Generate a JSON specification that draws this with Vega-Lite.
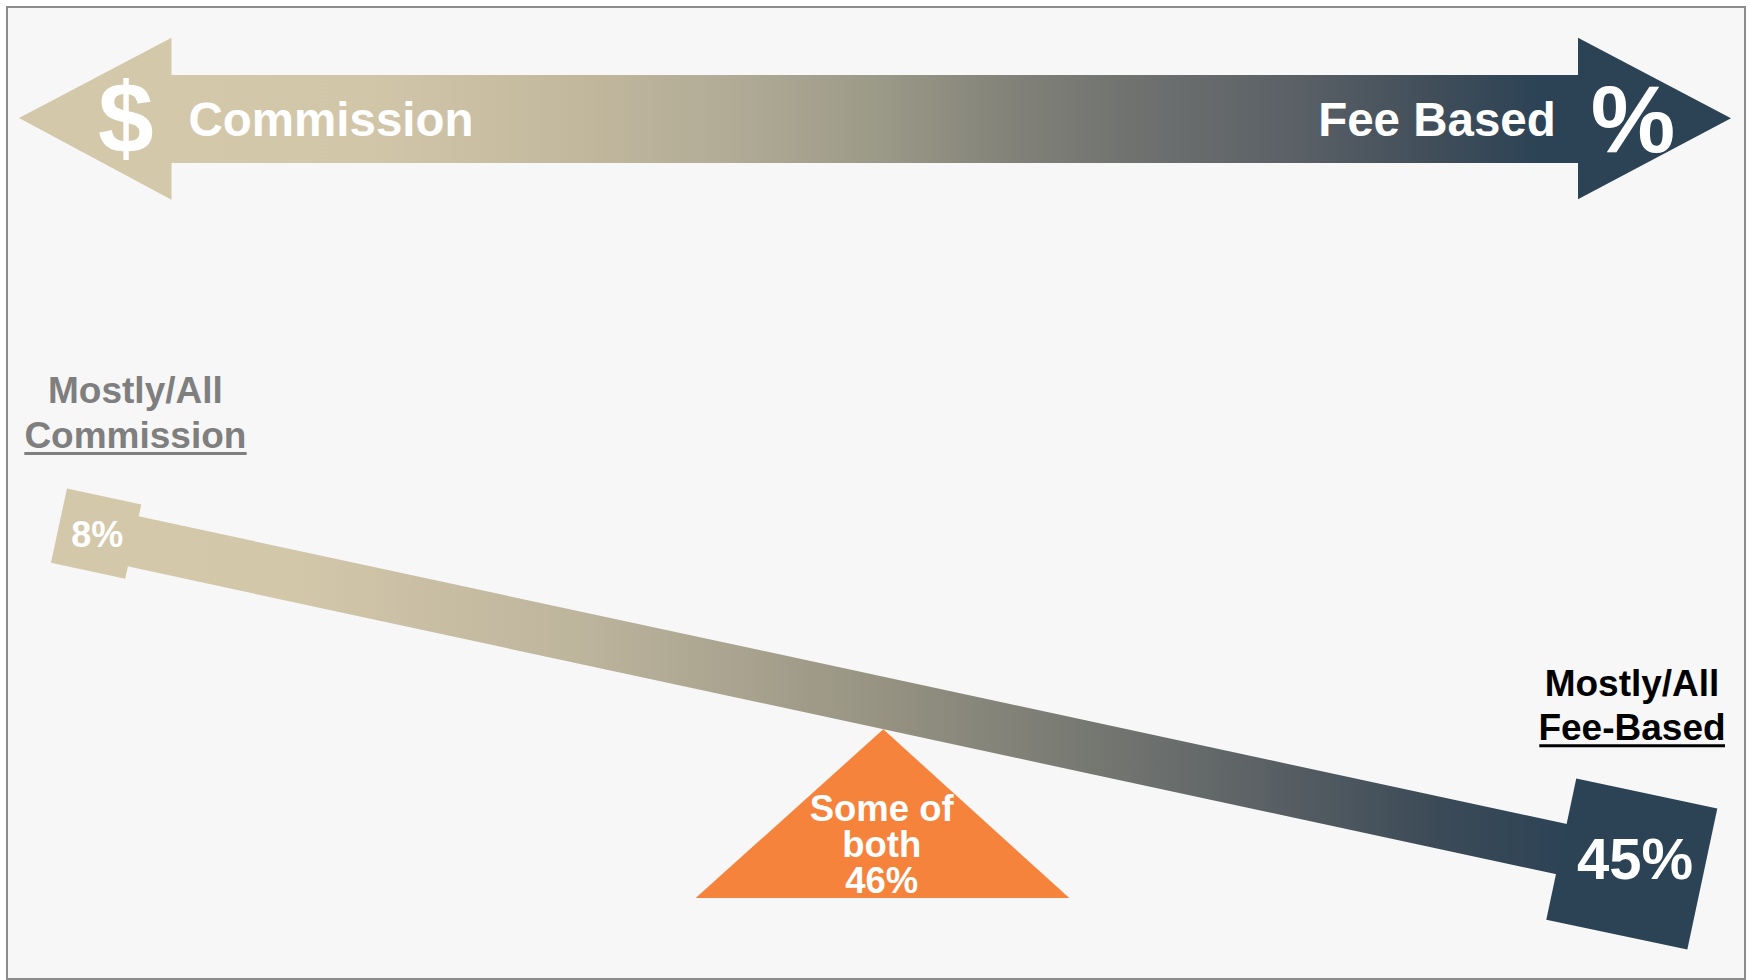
{
  "$schema": "https://vega.github.io/schema/vega-lite/v6.json",
  "width": 1749,
  "height": 980,
  "autosize": {"type": "fit", "contains": "padding"},
  "padding": 0,
  "background": "#ffffff",
  "config": {"view": {"stroke": null}, "text": {"font": "Liberation Sans", "fontWeight": "bold", "baseline": "alphabetic", "align": "center"}},
  "datasets": {
    "frame": [{"x": 7, "x2": 1745, "y": 7, "y2": 979}],
    "shaft": [{"x": 168, "x2": 1582, "y": 75, "y2": 163}],
    "leftHead": [{"x": 19, "y": 118, "y2": 118}, {"x": 171.5, "y": 37.7, "y2": 199.7}],
    "rightHead": [{"x": 1578, "y": 37.7, "y2": 199.3}, {"x": 1731, "y": 118.3, "y2": 118.3}],
    "dollar": [{"x": 125.7, "y": 153, "text": "$"}],
    "arrowText": [{"x": 331, "y": 136, "text": "Commission"}, {"x": 1437, "y": 135.7, "text": "Fee Based"}],
    "percent": [{"x": 1633, "y": 152, "text": "%"}],
    "beam": [{"x": 96, "y": 507.1, "y2": 559.6}, {"x": 1632, "y": 838.1, "y2": 890.6}],
    "leftBox": [{"x": 96.1, "y": 533.6, "category": "Mostly/All Commission", "share": 8}],
    "rightBox": [{"x": 1631.8, "y": 864.1, "category": "Mostly/All Fee-Based", "share": 45}],
    "fulcrum": [{"x": 695.7, "y": 898, "y2": 898}, {"x": 883.3, "y": 729.3, "y2": 898}, {"x": 1069.3, "y": 898, "y2": 898}],
    "leftLabel": [{"x": 135.4, "y": 403.3, "text": "Mostly/All"}, {"x": 135.4, "y": 447.7, "text": "Commission"}],
    "leftUnderline": [{"x": 24.3, "x2": 246.7, "y": 453.5}],
    "rightLabel": [{"x": 1632, "y": 696, "text": "Mostly/All"}, {"x": 1632, "y": 740, "text": "Fee-Based"}],
    "rightUnderline": [{"x": 1539.3, "x2": 1725, "y": 745.7}],
    "leftValue": [{"x": 97.3, "y": 546.7, "text": "8%"}],
    "rightValue": [{"x": 1635, "y": 879.3, "text": "45%"}],
    "bothText": [{"x": 881.7, "y": 820.7, "text": "Some of"}, {"x": 881.7, "y": 856.7, "text": "both"}, {"x": 881.7, "y": 892.7, "text": "46%"}]
  },
  "layer": [
    {
      "data": {"name": "frame"},
      "mark": {"type": "rect", "fill": "#f7f7f7", "stroke": "#8c8c8c", "strokeWidth": 2},
      "encoding": {
        "x": {"field": "x", "type": "quantitative", "scale": {"domain": [0, 1749], "nice": false, "zero": false}, "axis": null},
        "x2": {"field": "x2"},
        "y": {"field": "y", "type": "quantitative", "scale": {"domain": [0, 980], "nice": false, "zero": false, "reverse": true}, "axis": null},
        "y2": {"field": "y2"}
      }
    },
    {
      "data": {"name": "shaft"},
      "mark": {"type": "rect", "opacity": 1, "fill": {"gradient": "linear", "x1": 0, "x2": 1, "y1": 0, "y2": 0, "stops": [
        {"offset": 0, "color": "#d4c8ab"},
        {"offset": 0.14, "color": "#d2c6a9"},
        {"offset": 0.28, "color": "#c3b99e"},
        {"offset": 0.4, "color": "#b1ab96"},
        {"offset": 0.5, "color": "#9c9a88"},
        {"offset": 0.6, "color": "#818178"},
        {"offset": 0.7, "color": "#6c6f6e"},
        {"offset": 0.8, "color": "#5a6066"},
        {"offset": 0.9, "color": "#3f4d59"},
        {"offset": 0.97, "color": "#2c4356"},
        {"offset": 1, "color": "#2c4356"}
      ]}},
      "encoding": {
        "x": {"field": "x", "type": "quantitative", "scale": {"domain": [0, 1749], "nice": false, "zero": false}, "axis": null},
        "x2": {"field": "x2"},
        "y": {"field": "y", "type": "quantitative", "scale": {"domain": [0, 980], "nice": false, "zero": false, "reverse": true}, "axis": null},
        "y2": {"field": "y2"}
      }
    },
    {
      "data": {"name": "leftHead"},
      "mark": {"type": "area", "orient": "vertical", "fill": "#d4c8ab", "opacity": 1},
      "encoding": {
        "x": {"field": "x", "type": "quantitative", "scale": {"domain": [0, 1749], "nice": false, "zero": false}, "axis": null},
        "y": {"field": "y", "type": "quantitative", "stack": null, "scale": {"domain": [0, 980], "nice": false, "zero": false, "reverse": true}, "axis": null},
        "y2": {"field": "y2"}
      }
    },
    {
      "data": {"name": "rightHead"},
      "mark": {"type": "area", "orient": "vertical", "fill": "#2c4356", "opacity": 1},
      "encoding": {
        "x": {"field": "x", "type": "quantitative", "scale": {"domain": [0, 1749], "nice": false, "zero": false}, "axis": null},
        "y": {"field": "y", "type": "quantitative", "stack": null, "scale": {"domain": [0, 980], "nice": false, "zero": false, "reverse": true}, "axis": null},
        "y2": {"field": "y2"}
      }
    },
    {
      "data": {"name": "dollar"},
      "mark": {"type": "text", "fontSize": 100, "color": "#ffffff"},
      "encoding": {
        "x": {"field": "x", "type": "quantitative", "scale": {"domain": [0, 1749], "nice": false, "zero": false}, "axis": null},
        "y": {"field": "y", "type": "quantitative", "scale": {"domain": [0, 980], "nice": false, "zero": false, "reverse": true}, "axis": null},
        "text": {"field": "text"}
      }
    },
    {
      "data": {"name": "arrowText"},
      "mark": {"type": "text", "fontSize": 47.5, "color": "#ffffff"},
      "encoding": {
        "x": {"field": "x", "type": "quantitative", "scale": {"domain": [0, 1749], "nice": false, "zero": false}, "axis": null},
        "y": {"field": "y", "type": "quantitative", "scale": {"domain": [0, 980], "nice": false, "zero": false, "reverse": true}, "axis": null},
        "text": {"field": "text"}
      }
    },
    {
      "data": {"name": "percent"},
      "mark": {"type": "text", "fontSize": 95, "color": "#ffffff"},
      "encoding": {
        "x": {"field": "x", "type": "quantitative", "scale": {"domain": [0, 1749], "nice": false, "zero": false}, "axis": null},
        "y": {"field": "y", "type": "quantitative", "scale": {"domain": [0, 980], "nice": false, "zero": false, "reverse": true}, "axis": null},
        "text": {"field": "text"}
      }
    },
    {
      "data": {"name": "beam"},
      "mark": {"type": "area", "orient": "vertical", "opacity": 1, "fill": {"gradient": "linear", "x1": 0, "x2": 1, "y1": 0, "y2": 0, "stops": [
        {"offset": 0, "color": "#d4c8ab"},
        {"offset": 0.13, "color": "#d3c7aa"},
        {"offset": 0.31, "color": "#beb59d"},
        {"offset": 0.5, "color": "#999584"},
        {"offset": 0.625, "color": "#7b7c74"},
        {"offset": 0.75, "color": "#5d6366"},
        {"offset": 0.875, "color": "#3b4a57"},
        {"offset": 0.96, "color": "#2c4356"},
        {"offset": 1, "color": "#2c4356"}
      ]}},
      "encoding": {
        "x": {"field": "x", "type": "quantitative", "scale": {"domain": [0, 1749], "nice": false, "zero": false}, "axis": null},
        "y": {"field": "y", "type": "quantitative", "stack": null, "scale": {"domain": [0, 980], "nice": false, "zero": false, "reverse": true}, "axis": null},
        "y2": {"field": "y2"}
      }
    },
    {
      "data": {"name": "leftBox"},
      "mark": {"type": "point", "shape": "square", "filled": true, "size": 5776, "angle": 12.2, "fill": "#d4c8ab", "opacity": 1, "strokeWidth": 0},
      "encoding": {
        "x": {"field": "x", "type": "quantitative", "scale": {"domain": [0, 1749], "nice": false, "zero": false}, "axis": null},
        "y": {"field": "y", "type": "quantitative", "scale": {"domain": [0, 980], "nice": false, "zero": false, "reverse": true}, "axis": null}
      }
    },
    {
      "data": {"name": "rightBox"},
      "mark": {"type": "point", "shape": "square", "filled": true, "size": 20794, "angle": 12, "fill": "#2c4356", "opacity": 1, "strokeWidth": 0},
      "encoding": {
        "x": {"field": "x", "type": "quantitative", "scale": {"domain": [0, 1749], "nice": false, "zero": false}, "axis": null},
        "y": {"field": "y", "type": "quantitative", "scale": {"domain": [0, 980], "nice": false, "zero": false, "reverse": true}, "axis": null}
      }
    },
    {
      "data": {"name": "fulcrum"},
      "mark": {"type": "area", "orient": "vertical", "fill": "#f5833c", "opacity": 1},
      "encoding": {
        "x": {"field": "x", "type": "quantitative", "scale": {"domain": [0, 1749], "nice": false, "zero": false}, "axis": null},
        "y": {"field": "y", "type": "quantitative", "stack": null, "scale": {"domain": [0, 980], "nice": false, "zero": false, "reverse": true}, "axis": null},
        "y2": {"field": "y2"}
      }
    },
    {
      "data": {"name": "leftLabel"},
      "mark": {"type": "text", "fontSize": 37, "color": "#7f7f7f"},
      "encoding": {
        "x": {"field": "x", "type": "quantitative", "scale": {"domain": [0, 1749], "nice": false, "zero": false}, "axis": null},
        "y": {"field": "y", "type": "quantitative", "scale": {"domain": [0, 980], "nice": false, "zero": false, "reverse": true}, "axis": null},
        "text": {"field": "text"}
      }
    },
    {
      "data": {"name": "leftUnderline"},
      "mark": {"type": "rule", "color": "#7f7f7f", "strokeWidth": 3},
      "encoding": {
        "x": {"field": "x", "type": "quantitative", "scale": {"domain": [0, 1749], "nice": false, "zero": false}, "axis": null},
        "x2": {"field": "x2"},
        "y": {"field": "y", "type": "quantitative", "scale": {"domain": [0, 980], "nice": false, "zero": false, "reverse": true}, "axis": null}
      }
    },
    {
      "data": {"name": "rightLabel"},
      "mark": {"type": "text", "fontSize": 37, "color": "#000000"},
      "encoding": {
        "x": {"field": "x", "type": "quantitative", "scale": {"domain": [0, 1749], "nice": false, "zero": false}, "axis": null},
        "y": {"field": "y", "type": "quantitative", "scale": {"domain": [0, 980], "nice": false, "zero": false, "reverse": true}, "axis": null},
        "text": {"field": "text"}
      }
    },
    {
      "data": {"name": "rightUnderline"},
      "mark": {"type": "rule", "color": "#000000", "strokeWidth": 3},
      "encoding": {
        "x": {"field": "x", "type": "quantitative", "scale": {"domain": [0, 1749], "nice": false, "zero": false}, "axis": null},
        "x2": {"field": "x2"},
        "y": {"field": "y", "type": "quantitative", "scale": {"domain": [0, 980], "nice": false, "zero": false, "reverse": true}, "axis": null}
      }
    },
    {
      "data": {"name": "leftValue"},
      "mark": {"type": "text", "fontSize": 36, "color": "#ffffff"},
      "encoding": {
        "x": {"field": "x", "type": "quantitative", "scale": {"domain": [0, 1749], "nice": false, "zero": false}, "axis": null},
        "y": {"field": "y", "type": "quantitative", "scale": {"domain": [0, 980], "nice": false, "zero": false, "reverse": true}, "axis": null},
        "text": {"field": "text"}
      }
    },
    {
      "data": {"name": "rightValue"},
      "mark": {"type": "text", "fontSize": 58, "color": "#ffffff"},
      "encoding": {
        "x": {"field": "x", "type": "quantitative", "scale": {"domain": [0, 1749], "nice": false, "zero": false}, "axis": null},
        "y": {"field": "y", "type": "quantitative", "scale": {"domain": [0, 980], "nice": false, "zero": false, "reverse": true}, "axis": null},
        "text": {"field": "text"}
      }
    },
    {
      "data": {"name": "bothText"},
      "mark": {"type": "text", "fontSize": 36.5, "color": "#ffffff"},
      "encoding": {
        "x": {"field": "x", "type": "quantitative", "scale": {"domain": [0, 1749], "nice": false, "zero": false}, "axis": null},
        "y": {"field": "y", "type": "quantitative", "scale": {"domain": [0, 980], "nice": false, "zero": false, "reverse": true}, "axis": null},
        "text": {"field": "text"}
      }
    }
  ]
}
